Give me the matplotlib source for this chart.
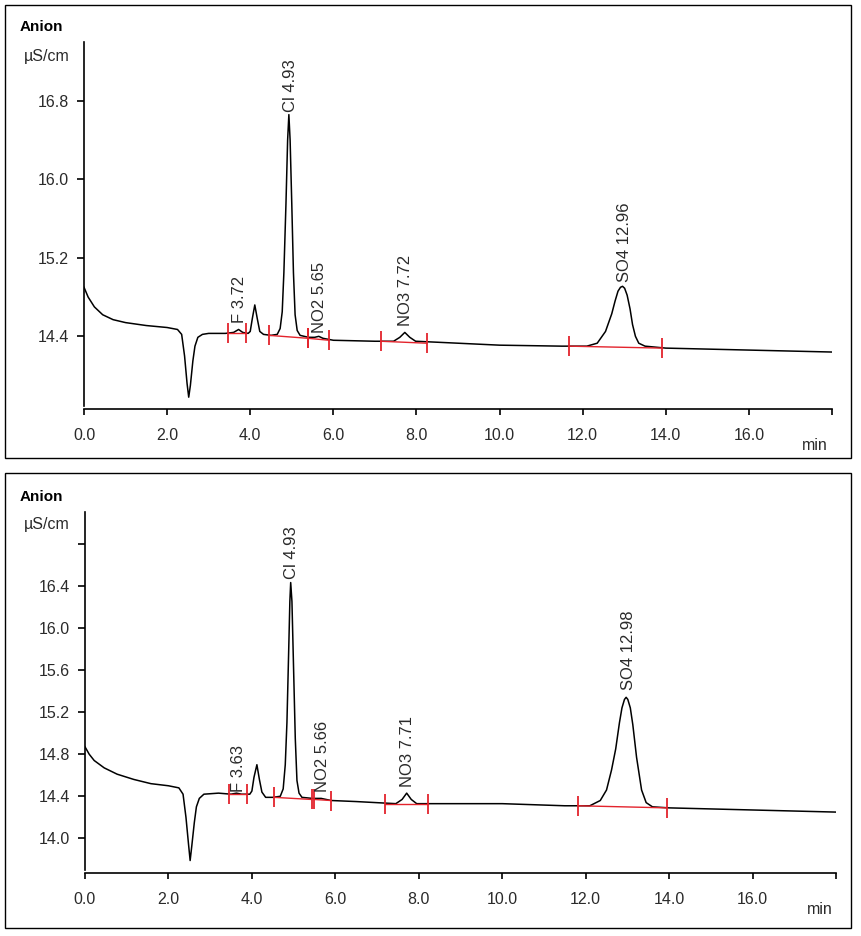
import matplotlib
matplotlib.use('Agg')
import matplotlib.pyplot as plt
from matplotlib.patches import Rectangle

plt.rcParams['font.family'] = ['Liberation Sans', 'DejaVu Sans']

# 위쪽 크로마토그램 (시간 min, 전도도 µS/cm) - 그림에서 읽은 값
top_t = [0.00, 0.10, 0.25, 0.45, 0.70, 1.00, 1.50, 2.00, 2.25, 2.35, 2.42, 2.48, 2.52, 2.56,
         2.62, 2.67, 2.74, 2.85, 3.00, 3.40, 3.60, 3.72, 3.82, 3.95, 4.00, 4.05, 4.11, 4.17,
         4.23, 4.32, 4.50, 4.65, 4.72, 4.77, 4.81, 4.86, 4.90, 4.93, 4.96, 5.00, 5.04, 5.08,
         5.13, 5.20, 5.40, 5.55, 5.65, 5.75, 6.00, 7.00, 7.45, 7.60, 7.72, 7.84, 7.98, 8.50,
         10.0, 11.5, 12.10, 12.35, 12.55, 12.70, 12.78, 12.85, 12.91, 12.96, 13.01, 13.07,
         13.14, 13.20, 13.27, 13.35, 13.50, 14.00, 16.00, 18.00]
top_v = [14.90, 14.80, 14.70, 14.62, 14.57, 14.54, 14.51, 14.49, 14.47, 14.42, 14.20, 13.92, 13.78, 13.90,
         14.15, 14.30, 14.39, 14.42, 14.43, 14.43, 14.44, 14.47, 14.44, 14.43, 14.45, 14.58, 14.72, 14.58,
         14.45, 14.42, 14.41, 14.42, 14.48, 14.65, 15.05, 15.75, 16.40, 16.66, 16.40, 15.75, 15.05, 14.62,
         14.46, 14.41, 14.39, 14.39, 14.40, 14.38, 14.36, 14.35, 14.35, 14.39, 14.44, 14.39, 14.35, 14.34,
         14.31, 14.30, 14.30, 14.33, 14.45, 14.63, 14.76, 14.86, 14.90, 14.91, 14.89, 14.82,
         14.68, 14.52, 14.40, 14.33, 14.30, 14.28, 14.26, 14.24]

# 아래쪽 크로마토그램
bot_t = [0.00, 0.10, 0.22, 0.46, 0.77, 1.17, 1.58, 2.00, 2.25, 2.35, 2.42, 2.48, 2.52, 2.56,
         2.62, 2.67, 2.74, 2.85, 3.20, 3.50, 3.63, 3.75, 3.95, 4.00, 4.05, 4.12, 4.18, 4.24,
         4.33, 4.50, 4.68, 4.75, 4.80, 4.84, 4.88, 4.91, 4.93, 4.96, 5.00, 5.04, 5.08, 5.13,
         5.20, 5.45, 5.66, 5.90, 6.50, 7.45, 7.60, 7.71, 7.82, 7.95, 8.50, 10.0, 11.5, 12.10,
         12.35, 12.50, 12.62, 12.72, 12.81, 12.87, 12.93, 12.97, 13.01, 13.07, 13.13, 13.22,
         13.34, 13.45, 13.60, 14.00, 16.00, 18.00]
bot_v = [14.87, 14.80, 14.74, 14.67, 14.61, 14.56, 14.52, 14.50, 14.48, 14.42, 14.20, 13.95, 13.79, 13.93,
         14.15, 14.30, 14.38, 14.42, 14.43, 14.42, 14.43, 14.42, 14.42, 14.45, 14.58, 14.70, 14.56, 14.44,
         14.39, 14.39, 14.40, 14.47, 14.70, 15.10, 15.75, 16.25, 16.43, 16.25, 15.60, 14.95, 14.55, 14.43,
         14.39, 14.38, 14.38, 14.36, 14.35, 14.33, 14.37, 14.43, 14.37, 14.33, 14.33, 14.33, 14.31, 14.31,
         14.36, 14.46, 14.65, 14.85, 15.10, 15.24, 15.32, 15.34, 15.32, 15.24, 15.08, 14.77,
         14.46, 14.34, 14.30, 14.29, 14.27, 14.25]

# 적분 구간 (빨간 선): 시작/끝 시간, 시작/끝 값
top_seg_t0 = [3.46, 4.45, 5.39, 7.14, 11.66]
top_seg_t1 = [3.89, 5.39, 5.90, 8.25, 13.92]
top_seg_v0 = [14.43, 14.41, 14.38, 14.35, 14.30]
top_seg_v1 = [14.43, 14.38, 14.36, 14.33, 14.28]

bot_seg_t0 = [3.45, 4.53, 5.49, 7.20, 11.82]
bot_seg_t1 = [3.88, 5.43, 5.89, 8.21, 13.94]
bot_seg_v0 = [14.42, 14.39, 14.37, 14.33, 14.31]
bot_seg_v1 = [14.42, 14.37, 14.36, 14.33, 14.29]

# 피크 라벨
top_labels = ['F 3.72', 'Cl 4.93', 'NO2 5.65', 'NO3 7.72', 'SO4 12.96']
top_lab_t = [3.73, 4.97, 5.67, 7.74, 13.00]
top_lab_v = [14.54, 16.69, 14.43, 14.51, 14.95]

bot_labels = ['F 3.63', 'Cl 4.93', 'NO2 5.66', 'NO3 7.71', 'SO4 12.98']
bot_lab_t = [3.69, 4.96, 5.69, 7.72, 13.03]
bot_lab_v = [14.44, 16.46, 14.44, 14.49, 15.41]

x_ticks = [0, 2, 4, 6, 8, 10, 12, 14, 16, 18]
x_ticklabels = ['0.0', '2.0', '4.0', '6.0', '8.0', '10.0', '12.0', '14.0', '16.0', '']
top_yticks = [14.4, 15.2, 16.0, 16.8]
top_yticklabels = ['14.4', '15.2', '16.0', '16.8']
bot_yticks = [14.0, 14.4, 14.8, 15.2, 15.6, 16.0, 16.4, 16.8]
bot_yticklabels = ['14.0', '14.4', '14.8', '15.2', '15.6', '16.0', '16.4', '']

W, H = 861, 936
RED = '#e3232c'
TXT = '#2a2a2a'


def fx(px):
    return px / W


def fy(py):
    return 1 - py / H


def draw_panel(fig, box, ylim, t, v, s_t0, s_t1, s_v0, s_v1, labels, lab_t, lab_v,
               yticks, yticklabels, frame, text_y):
    left, top, right, bottom = box
    ax = fig.add_axes([fx(left), fy(bottom), fx(right - left), (bottom - top) / H])
    ax.plot(t, v, color='black', lw=1.1, zorder=3)
    for a, b, c, d in zip(s_t0, s_t1, s_v0, s_v1):
        ax.plot([a, b], [c, d], color=RED, lw=1.0, marker='|', markersize=14,
                markeredgewidth=1.3, zorder=4)
    for lab, lt, lv in zip(labels, lab_t, lab_v):
        ax.text(lt, lv, lab, rotation=90, ha='center', va='bottom', fontsize=12,
                color=TXT, zorder=5)
    ax.set_xlim(0, 18)
    ax.set_ylim(*ylim)
    ax.set_xticks(x_ticks)
    ax.set_xticklabels(x_ticklabels)
    ax.set_yticks(yticks)
    ax.set_yticklabels(yticklabels)
    for s in ['top', 'right']:
        ax.spines[s].set_visible(False)
    ax.spines['bottom'].set_position(('outward', 2))
    ax.spines['left'].set_linewidth(1.2)
    ax.spines['bottom'].set_linewidth(1.2)
    ax.tick_params(axis='x', length=4.5, width=1.2, pad=9, labelsize=11.5, labelcolor=TXT)
    ax.tick_params(axis='y', length=5, width=1.2, pad=6, labelsize=11.5, labelcolor=TXT)
    ax.patch.set_visible(False)

    # 바깥 테두리와 라벨
    fl, ft, fr, fb = frame
    fig.patches.append(Rectangle((fx(fl), fy(fb)), fx(fr - fl), (fb - ft) / H,
                                 transform=fig.transFigure, fill=False, lw=1.0, ec='black'))
    ay, uy, my, mx = text_y
    fig.text(fx(20), fy(ay), 'Anion', fontsize=11, fontweight='bold', va='center', ha='left')
    fig.text(fx(24), fy(uy), 'µS/cm', fontsize=11.5, va='center', ha='left', color=TXT)
    fig.text(fx(mx), fy(my), 'min', fontsize=11.5, va='center', ha='center', color=TXT)
    return ax


fig = plt.figure(figsize=(W / 100, H / 100), dpi=100)

draw_panel(fig, (84, 42, 832, 406), (13.69, 17.40), top_t, top_v,
           top_seg_t0, top_seg_t1, top_seg_v0, top_seg_v1,
           top_labels, top_lab_t, top_lab_v, top_yticks, top_yticklabels,
           (5, 5, 851, 458), (27, 56, 445, 815))

draw_panel(fig, (85, 512, 836, 870), (13.70, 17.10), bot_t, bot_v,
           bot_seg_t0, bot_seg_t1, bot_seg_v0, bot_seg_v1,
           bot_labels, bot_lab_t, bot_lab_v, bot_yticks, bot_yticklabels,
           (5, 473, 851, 928), (497, 525, 910, 820))

plt.savefig('out.png', dpi=100)
